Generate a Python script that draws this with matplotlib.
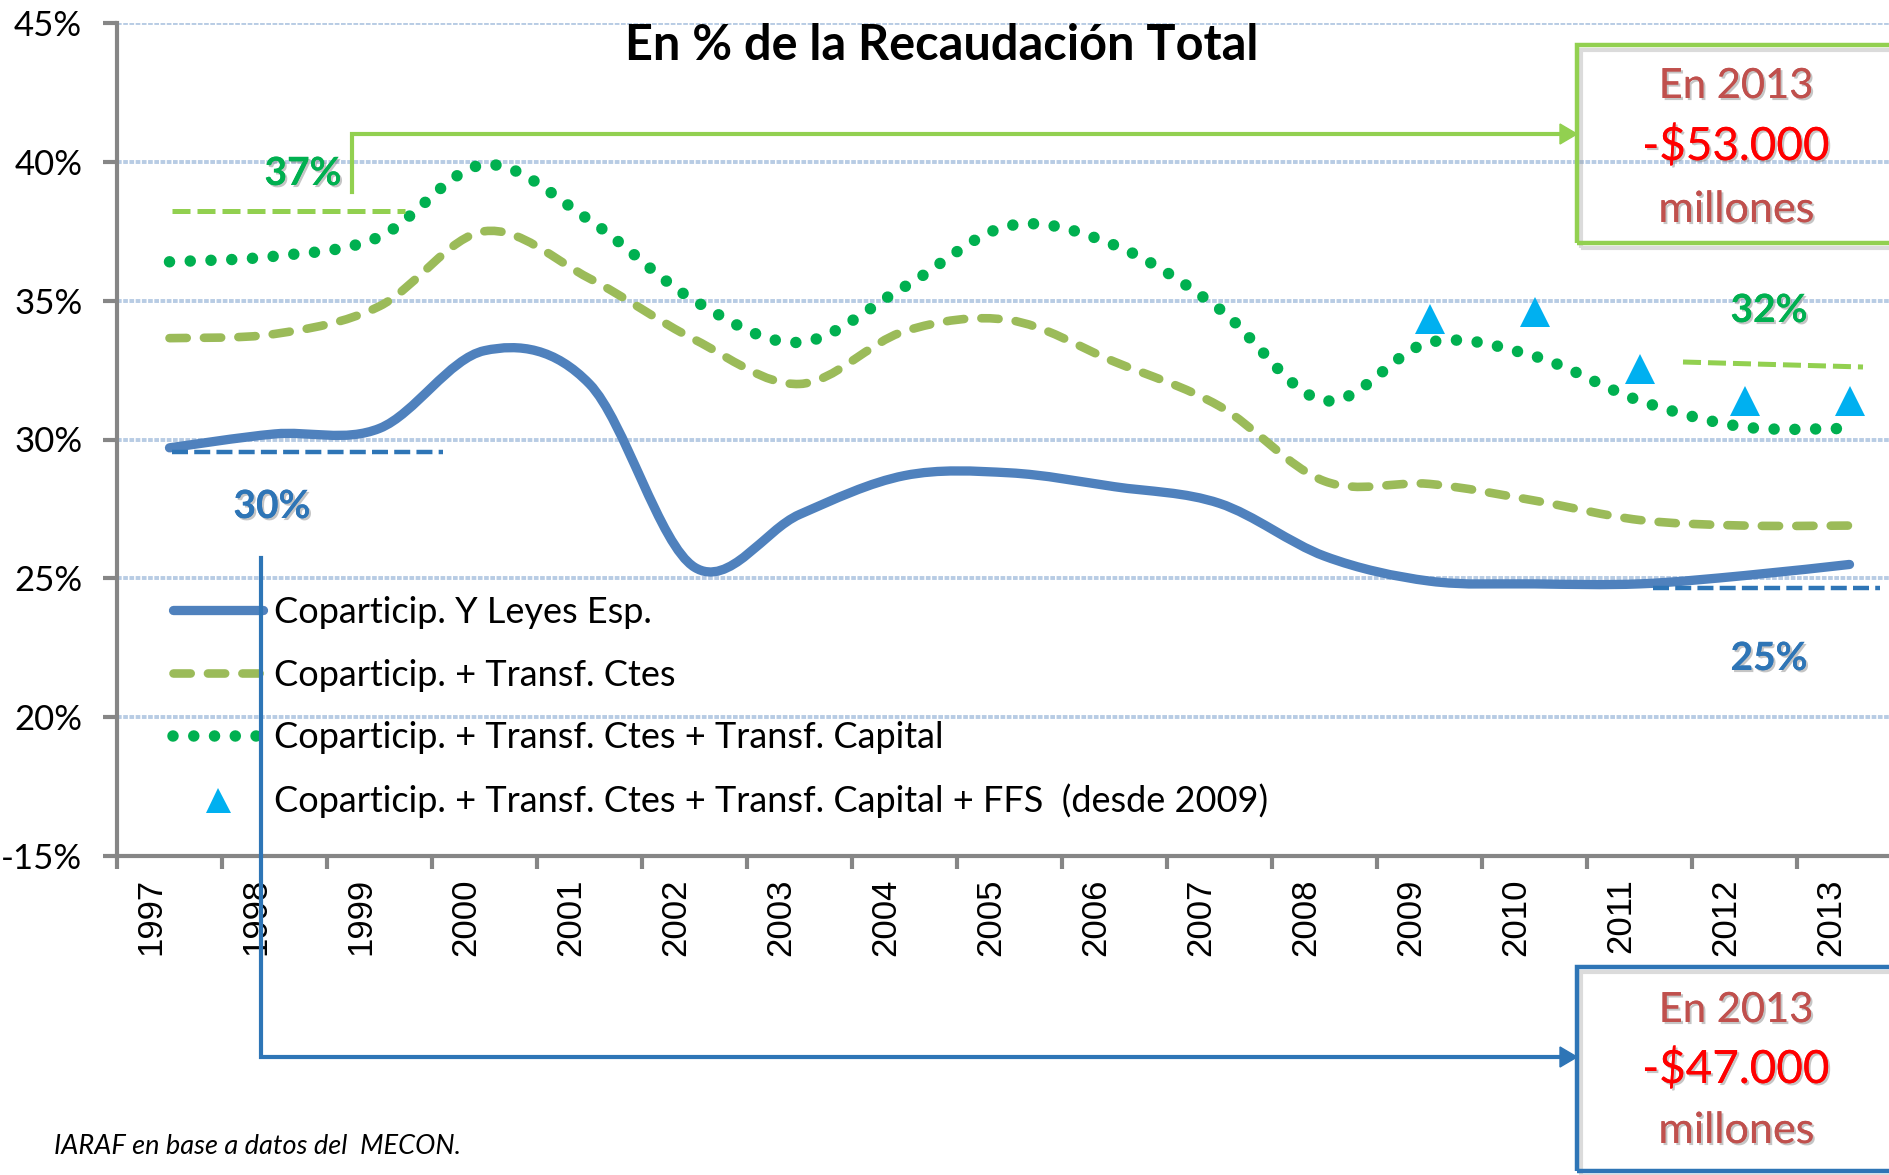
import numpy as np
import matplotlib
matplotlib.use("Agg")
import matplotlib.pyplot as plt
from matplotlib.path import Path
from matplotlib.patches import PathPatch, Rectangle, Polygon
from matplotlib.lines import Line2D
import matplotlib.patheffects as pe
import matplotlib.transforms as mtransforms

# ---------------- data ----------------
years = ["1997", "1998", "1999", "2000", "2001", "2002", "2003", "2004", "2005",
         "2006", "2007", "2008", "2009", "2010", "2011", "2012", "2013"]
copart_leyes = [29.7, 30.2, 30.4, 33.2, 32.0, 25.4, 27.3, 28.7, 28.8,
                28.3, 27.7, 25.8, 24.9, 24.8, 24.8, 25.1, 25.5]
copart_ctes = [33.65, 33.8, 34.8, 37.5, 35.8, 33.6, 32.0, 33.9, 34.3,
               32.8, 31.2, 28.5, 28.4, 27.8, 27.1, 26.9, 26.9]
copart_ctes_cap = [36.4, 36.6, 37.3, 39.9, 37.9, 35.0, 33.5, 35.5, 37.7,
                   37.0, 34.7, 31.4, 33.5, 33.0, 31.4, 30.45, 30.4]
ffs_years = ["2009", "2010", "2011", "2012", "2013"]
ffs_values = [34.35, 34.6, 32.55, 31.4, 31.4]

series_labels = ["Coparticip. Y Leyes Esp.",
                 "Coparticip. + Transf. Ctes",
                 "Coparticip. + Transf. Ctes + Transf. Capital",
                 "Coparticip. + Transf. Ctes + Transf. Capital + FFS  (desde 2009)"]
ytick_values = [15, 20, 25, 30, 35, 40, 45]
ytick_labels = ["-15%", "20%", "25%", "30%", "35%", "40%", "45%"]
title = "En % de la Recaudación Total"
source = "IARAF en base a datos del  MECON."

# ---------------- style ----------------
plt.rcParams["font.family"] = ["Lato", "DejaVu Sans"]
W, H, DPI = 1889, 1175, 100
BLUE = "#4F81BD"
OLIVE = "#9BBB59"
GREEN = "#00B050"
LGREEN = "#92D050"
CYAN = "#00B0F0"
DBLUE = "#2E75B6"
GRID = "#B8CCE4"
AXC = "#868686"
BOXRED = "#C0504D"

fig = plt.figure(figsize=(W / DPI, H / DPI), dpi=DPI)
ax = fig.add_axes([117 / W, 1 - 856 / H, 1785 / W, 833 / H])
ax.set_xlim(-0.5, 16.5)
ax.set_ylim(15, 45)

def P(x, y):
    return (x / W, 1 - y / H)

def smooth_path(xs, ys):
    xs = np.asarray(xs, float)
    ys = np.asarray(ys, float)
    n = len(xs)
    verts = [(xs[0], ys[0])]
    codes = [Path.MOVETO]
    for i in range(n - 1):
        i0 = max(i - 1, 0)
        i3 = min(i + 2, n - 1)
        c1 = (xs[i] + (xs[i + 1] - xs[i0]) / 6, ys[i] + (ys[i + 1] - ys[i0]) / 6)
        c2 = (xs[i + 1] - (xs[i3] - xs[i]) / 6, ys[i + 1] - (ys[i3] - ys[i]) / 6)
        verts += [c1, c2, (xs[i + 1], ys[i + 1])]
        codes += [Path.CURVE4] * 3
    return Path(verts, codes)

x = np.arange(len(years))

# grid
ax.set_axisbelow(True)
ax.yaxis.grid(True, color=GRID, lw=2.8, linestyle=(0, (1.2, 0.4)))

# series
ax.add_patch(PathPatch(smooth_path(x, copart_leyes), fill=False, edgecolor=BLUE,
                       lw=6.7, capstyle="round", joinstyle="round", zorder=3))
ax.add_patch(PathPatch(smooth_path(x, copart_ctes), fill=False, edgecolor=OLIVE,
                       lw=6.2, linestyle=(0, (2.0, 2.0)), capstyle="round", zorder=3))
ax.add_patch(PathPatch(smooth_path(x, copart_ctes_cap), fill=False, edgecolor=GREEN,
                       lw=8.3, linestyle=(0, (0.001, 1.8)), capstyle="round", zorder=3))
fx = [years.index(y) for y in ffs_years]
ax.plot(fx, ffs_values, "^", color=CYAN, markersize=21, markeredgewidth=0, zorder=4)

# axes styling
for s in ["top", "right"]:
    ax.spines[s].set_visible(False)
for s in ["left", "bottom"]:
    ax.spines[s].set_color(AXC)
    ax.spines[s].set_linewidth(3)
ax.set_yticks(ytick_values)
ax.set_yticklabels(ytick_labels)
ax.tick_params(axis="y", direction="out", length=10, width=3, color=AXC, pad=15,
               labelsize=25)
ax.set_xticks(np.arange(-0.5, 17, 1))
ax.set_xticklabels([])
ax.tick_params(axis="x", which="major", direction="out", length=9.4, width=3, color=AXC)
ax.set_xticks(x, minor=True)
ax.set_xticklabels(years, minor=True, rotation=90, fontsize=25,
                   fontfamily="Liberation Sans")
ax.tick_params(axis="x", which="minor", length=0, pad=16)
off = mtransforms.ScaledTranslation(-19 / DPI, 0, fig.dpi_scale_trans)
for lbl in ax.get_xticklabels(minor=True):
    lbl.set_transform(lbl.get_transform() + off)

# legend
handles = [
    Line2D([], [], color=BLUE, lw=6.7, solid_capstyle="round"),
    Line2D([], [], color=OLIVE, lw=6.2, linestyle=(0, (2.0, 2.0)), dash_capstyle="round"),
    Line2D([], [], color=GREEN, lw=8.3, linestyle=(0, (0.001, 1.8)), dash_capstyle="round"),
    Line2D([], [], color=CYAN, marker="^", linestyle="none", markersize=18, markeredgewidth=0),
]
leg = ax.legend(handles, series_labels, loc="upper left", bbox_to_anchor=P(173, 596),
                bbox_transform=fig.transFigure, frameon=False, fontsize=26,
                handlelength=2.5, handletextpad=0.3, labelspacing=0.82,
                borderpad=0, borderaxespad=0)

# title and source
fig.text(942 / W, 1 - 60 / H, title, ha="center", va="baseline", fontsize=35,
         fontweight="bold")
fig.text(54 / W, 1 - 1154 / H, source, ha="left", va="baseline", fontsize=19.5,
         style="italic")

shadow = [pe.withSimplePatchShadow(offset=(1.5, -1.5), shadow_rgbFace="#7f7f7f", alpha=0.45),
          pe.Normal()]

# percentage annotations
for txt, xx, yy, col in [("37%", 303, 185, GREEN), ("30%", 272, 518, DBLUE),
                         ("32%", 1769, 322, GREEN), ("25%", 1769, 670, DBLUE)]:
    fig.text(xx / W, 1 - yy / H, txt, ha="center", va="baseline", fontsize=28,
             fontweight="bold", color=col, path_effects=shadow)

# reference dashed segments
def seg(x0, y0, x1, y1, col, lw):
    fig.add_artist(Line2D([x0 / W, x1 / W], [1 - y0 / H, 1 - y1 / H],
                          transform=fig.transFigure, color=col, lw=lw,
                          linestyle=(0, (3.6, 1.4)), solid_capstyle="butt",
                          dash_capstyle="butt"))

seg(172, 211, 405, 211, LGREEN, 3.6)
seg(1683, 362, 1863, 367, LGREEN, 3.6)
seg(172, 452, 443, 452, DBLUE, 3.2)
seg(1653, 588, 1880, 588, DBLUE, 3.2)

# arrows
def arrow(pts, col):
    xs = [p[0] / W for p in pts]
    ys = [1 - p[1] / H for p in pts]
    fig.add_artist(Line2D(xs, ys, transform=fig.transFigure, color=col, lw=3.0,
                          solid_joinstyle="miter", zorder=6))
    tx, ty = pts[-1]
    tip = [P(tx + 15, ty), P(tx - 2, ty - 10), P(tx - 2, ty + 10)]
    fig.add_artist(Polygon(tip, closed=True, transform=fig.transFigure, color=col, zorder=6))

arrow([(352, 192), (352, 134), (1562, 134)], LGREEN)
arrow([(261, 558), (261, 1057), (1562, 1057)], DBLUE)

# boxes
def box(x0, y0, x1, y1, col):
    fig.add_artist(Rectangle(P(x0 + 4, y1 + 5), (x1 - x0) / W, (y1 - y0) / H,
                             transform=fig.transFigure, fill=False,
                             edgecolor="#999999", lw=3, alpha=0.35, zorder=5))
    fig.add_artist(Rectangle(P(x0, y1), (x1 - x0) / W, (y1 - y0) / H,
                             transform=fig.transFigure, fill=False,
                             edgecolor=col, lw=3.2, zorder=6))

box(1577, 45, 1905, 243, LGREEN)
box(1577, 967, 1905, 1171, DBLUE)

def box_text(y_base, txt, col, size):
    fig.text(1736 / W, 1 - y_base / H, txt, ha="center", va="baseline",
             fontsize=size, color=col, path_effects=shadow, zorder=7)

box_text(98, "En 2013", BOXRED, 30)
box_text(160, "-$53.000", "#FF0000", 33)
box_text(222, "millones", BOXRED, 31)
box_text(1022, "En 2013", BOXRED, 30)
box_text(1083, "-$47.000", "#FF0000", 33)
box_text(1143, "millones", BOXRED, 31)

fig.savefig("out.png", dpi=DPI)
